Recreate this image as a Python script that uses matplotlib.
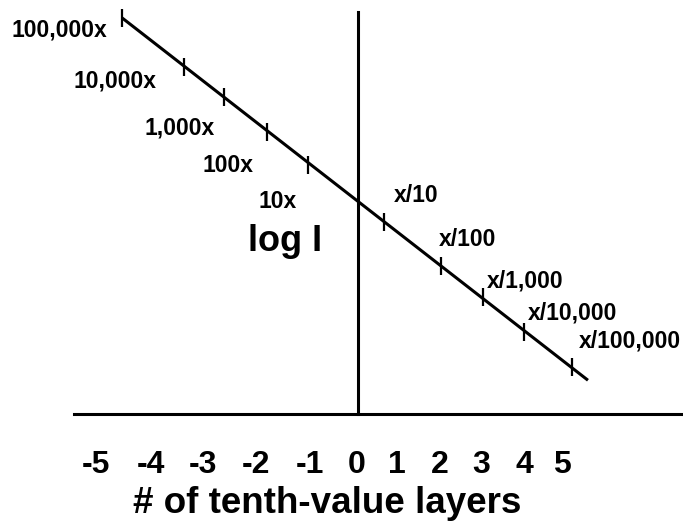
import matplotlib
matplotlib.use("Agg")
import matplotlib.pyplot as plt

plt.rcParams["font.family"] = ["Liberation Sans", "DejaVu Sans"]
plt.rcParams["font.weight"] = "bold"

# the attenuation line (tenth-value layers vs log I)
line_tvl = [-5.24, 5.11]
line_logI = [8.80, 0.75]

# tick marks along the line
tick_tvl = [-5.24, -3.87, -2.98, -2.02, -1.11, 0.58, 1.84, 2.78, 3.69, 4.76]
tick_logI = [8.80, 7.71, 7.04, 6.26, 5.53, 4.26, 3.29, 2.60, 1.82, 1.04]

left_names = ["100,000x", "10,000x", "1,000x", "100x", "10x"]
right_names = ["x/10", "x/100", "x/1,000", "x/10,000", "x/100,000"]

axis_numbers = ["-5", "-4", "-3", "-2", "-1", "0", "1", "2", "3", "4", "5"]

# layout (where the texts sit), in the same units as the axes
left_xy = [(-5.58, 8.39), (-4.47, 7.26), (-3.18, 6.21), (-2.33, 5.37), (-1.36, 4.57)]
right_xy = [(0.80, 4.70), (1.80, 3.74), (2.87, 2.81), (3.78, 2.10), (4.91, 1.48)]
number_x = [-5.82, -4.60, -3.44, -2.27, -1.07, -0.04, 0.87, 1.82, 2.73, 3.69, 4.53]

fig = plt.figure(figsize=(6.83, 5.25), dpi=100)
ax = fig.add_axes([74 / 683, 111 / 525, 609 / 683, 402 / 525])
ax.set_xlim(-6.311, 7.222)
ax.set_ylim(0, 8.933)

ax.spines["left"].set_position(("data", 0))
ax.spines["left"].set_linewidth(2.2)
ax.spines["bottom"].set_linewidth(2.2)
ax.spines["top"].set_visible(False)
ax.spines["right"].set_visible(False)
ax.set_yticks([])

ax.plot(line_tvl, line_logI, color="black", lw=2.2, solid_capstyle="butt", clip_on=False)
ax.plot(tick_tvl, tick_logI, ls="none", marker="|", ms=13, mew=1.6, color="black", clip_on=False)

for name, (x, y) in zip(left_names, left_xy):
    ax.text(x, y, name, ha="right", va="baseline", fontsize=16.5, fontweight="bold")
for name, (x, y) in zip(right_names, right_xy):
    ax.text(x, y, name, ha="left", va="baseline", fontsize=16.5, fontweight="bold")

ax.text(-1.62, 3.62, "log I", ha="center", va="baseline", fontsize=26, fontweight="bold")

ax.set_xticks(number_x, axis_numbers)
ax.tick_params(axis="x", length=0, pad=26, labelsize=23)
for lab in ax.get_xticklabels():
    lab.set_fontweight("bold")

fig.text(327 / 683, 12 / 525, "# of tenth-value layers", ha="center", va="baseline",
         fontsize=26.5, fontweight="bold")

fig.savefig("out.png", dpi=100)
